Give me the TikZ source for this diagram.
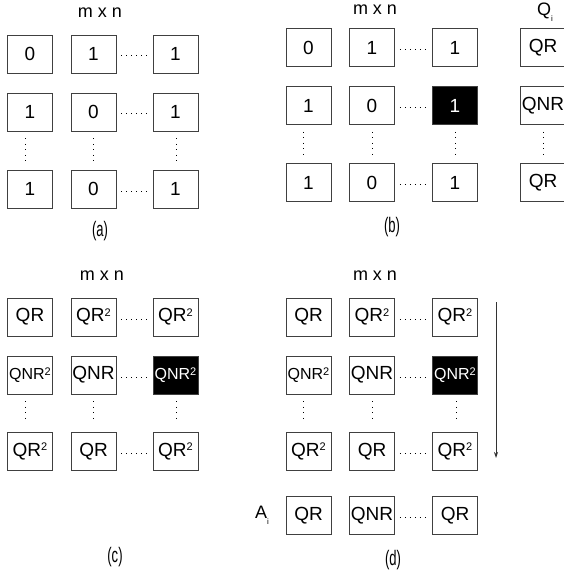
\documentclass[tikz,border=0pt]{standalone}
\usepackage{fontspec}
\usepackage{graphicx}
\usetikzlibrary{arrows.meta}
\setmainfont{Liberation Sans}
\newcommand{\suptwo}{\raisebox{0.55ex}{\fontsize{11}{11}\selectfont 2}}
\newcommand{\panelname}[1]{\scalebox{0.62}[1]{#1}}

\begin{document}
\begin{tikzpicture}[x=1pt,y=-1pt,
  cell/.style={draw=black!75,line width=0.8pt,minimum width=45pt,minimum height=38pt,inner sep=0pt,font=\fontsize{19}{22}\selectfont},
  hot/.style={cell,fill=black,text=white},
  tight/.style={font=\fontsize{16}{18}\selectfont},
  hdot/.style={line width=1pt,dash pattern=on 1pt off 4pt,shorten <=5pt,shorten >=4pt,transform canvas={yshift=-2pt}},
  vdot/.style={line width=1pt,dash pattern=on 1pt off 4.5pt,shorten <=7pt,shorten >=9pt},
  title/.style={font=\fontsize{18}{20}\selectfont},
  caption/.style={font=\fontsize{21}{23}\selectfont}]
\useasboundingbox (0,0) rectangle (564,575);

% (a)
\node[title] (ta) at (100,13) {m x n};
\node[cell] (a11) at (30,54) {0};
\node[cell] (a12) at (93.5,54) {1};
\node[cell] (a13) at (175.5,54) {1};
\node[cell] (a21) at (30,112) {1};
\node[cell] (a22) at (93.5,112) {0};
\node[cell] (a23) at (175.5,112) {1};
\node[cell] (a31) at (30,189) {1};
\node[cell] (a32) at (93.5,189) {0};
\node[cell] (a33) at (175.5,189) {1};
\draw[hdot] (a12.east) -- (a13.west);
\draw[hdot] (a22.east) -- (a23.west);
\draw[hdot] (a32.east) -- (a33.west);
\draw[vdot] ([xshift=-5pt]a21.south) -- ([xshift=-5pt]a31.north);
\draw[vdot] (a22.south) -- (a32.north);
\draw[vdot] ([xshift=1pt]a23.south) -- ([xshift=1pt]a33.north);
\node[caption] (la) at (100,231) {\panelname{(a)}};

% (b)
\node[title] (tb) at (375,10) {m x n};
\node[title] (qi) at (545,12) {Q\raisebox{-0.6ex}{\fontsize{8}{8}\selectfont i}};
\node[cell] (b11) at (308.5,47.5) {0};
\node[cell] (b12) at (372,47.5) {1};
\node[cell] (b13) at (455,47.5) {1};
\node[cell] (q1) at (543,47.5) {QR};
\node[cell] (b21) at (308.5,105.5) {1};
\node[cell] (b22) at (372,105.5) {0};
\node[hot] (b23) at (455,105.5) {1};
\node[cell] (q2) at (543,105.5) {QNR};
\node[cell] (b31) at (308.5,182.5) {1};
\node[cell] (b32) at (372,182.5) {0};
\node[cell] (b33) at (455,182.5) {1};
\node[cell] (q3) at (543,182.5) {QR};
\draw[hdot] (b12.east) -- (b13.west);
\draw[hdot] (b22.east) -- (b23.west);
\draw[hdot] (b32.east) -- (b33.west);
\draw[vdot] ([xshift=-5pt]b21.south) -- ([xshift=-5pt]b31.north);
\draw[vdot] (b22.south) -- (b32.north);
\draw[vdot] (b23.south) -- (b33.north);
\draw[vdot] (q2.south) -- (q3.north);
\node[caption] (lb) at (392,227) {\panelname{(b)}};

% (c)
\node[title] (tc) at (102,276) {m x n};
\node[cell] (c11) at (30,317) {QR};
\node[cell] (c12) at (93.5,317) {QR\suptwo};
\node[cell] (c13) at (175.5,317) {QR\suptwo};
\node[cell,tight] (c21) at (30,375) {QNR\suptwo};
\node[cell] (c22) at (93.5,375) {QNR};
\node[hot,tight] (c23) at (175.5,375) {QNR\suptwo};
\node[cell] (c31) at (30,451.5) {QR\suptwo};
\node[cell] (c32) at (93.5,451.5) {QR};
\node[cell] (c33) at (175.5,451.5) {QR\suptwo};
\draw[hdot] (c12.east) -- (c13.west);
\draw[hdot] (c22.east) -- (c23.west);
\draw[hdot] (c32.east) -- (c33.west);
\draw[vdot] ([xshift=-5pt]c21.south) -- ([xshift=-5pt]c31.north);
\draw[vdot] (c22.south) -- (c32.north);
\draw[vdot] ([xshift=1pt]c23.south) -- ([xshift=1pt]c33.north);
\node[caption] (lc) at (115,557) {\panelname{(c)}};

% (d)
\node[title] (td) at (375,276) {m x n};
\node[cell] (d11) at (308.5,317) {QR};
\node[cell] (d12) at (372,317) {QR\suptwo};
\node[cell] (d13) at (455,317) {QR\suptwo};
\node[cell,tight] (d21) at (308.5,375) {QNR\suptwo};
\node[cell] (d22) at (372,375) {QNR};
\node[hot,tight] (d23) at (455,375) {QNR\suptwo};
\node[cell] (d31) at (308.5,451.5) {QR\suptwo};
\node[cell] (d32) at (372,451.5) {QR};
\node[cell] (d33) at (455,451.5) {QR\suptwo};
\node[cell] (d41) at (308.5,515.5) {QR};
\node[cell] (d42) at (372,515.5) {QNR};
\node[cell] (d43) at (455,515.5) {QR};
\node[title] (ai) at (262,515) {A\raisebox{-0.6ex}{\fontsize{8}{8}\selectfont i}};
\draw[hdot] (d12.east) -- (d13.west);
\draw[hdot] (d22.east) -- (d23.west);
\draw[hdot] (d32.east) -- (d33.west);
\draw[hdot] (d42.east) -- (d43.west);
\draw[vdot] ([xshift=-5pt]d21.south) -- ([xshift=-5pt]d31.north);
\draw[vdot] (d22.south) -- (d32.north);
\draw[vdot] ([xshift=1pt]d23.south) -- ([xshift=1pt]d33.north);
\coordinate (top) at (496,302);
\coordinate (bottom) at (496,458);
\draw[black!80,line width=0.8pt,-{Stealth[length=6pt,width=4pt]}] (top) -- (bottom);
\node[caption] (ld) at (393,560) {\panelname{(d)}};
\end{tikzpicture}
\end{document}
